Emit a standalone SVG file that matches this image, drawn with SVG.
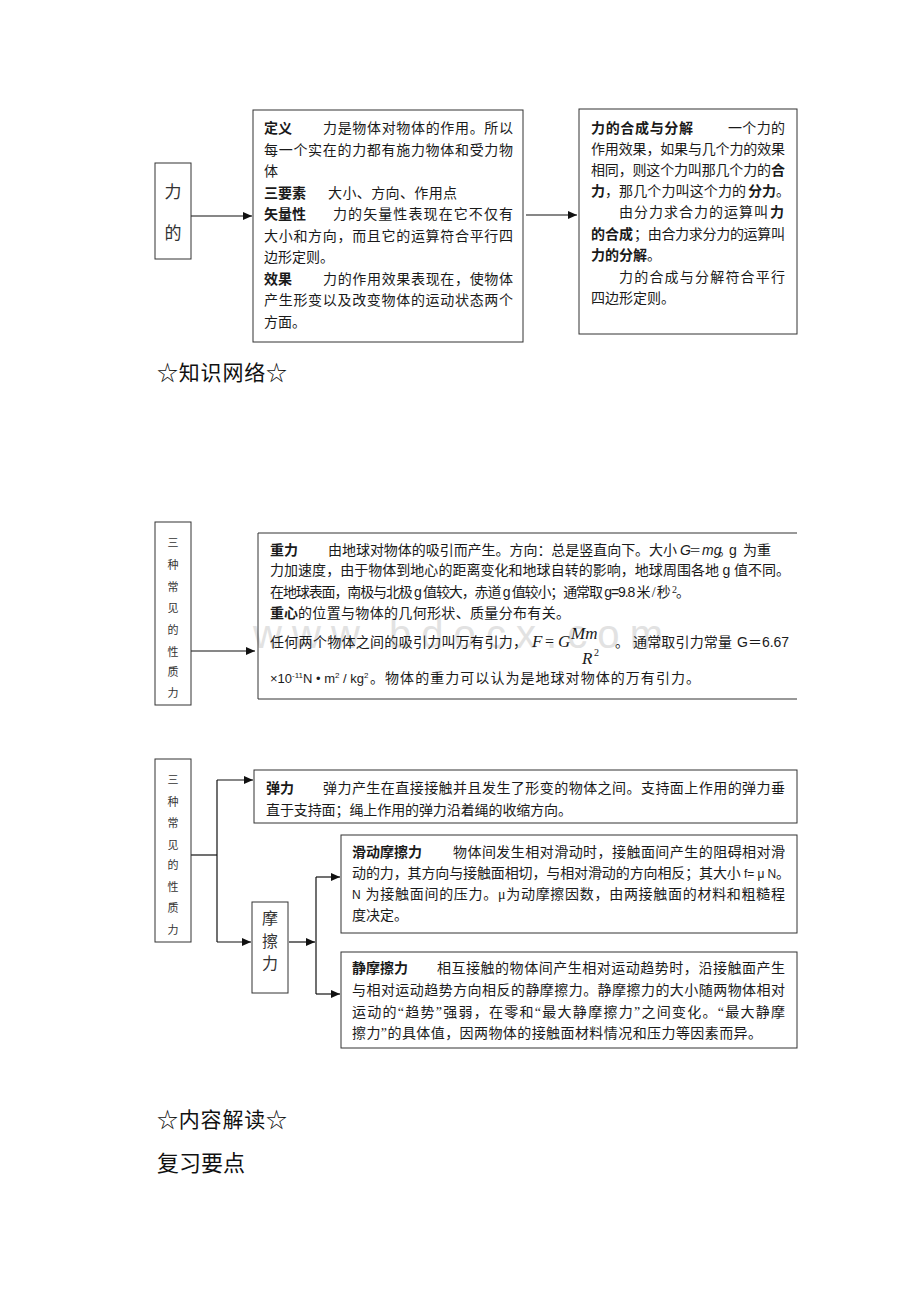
<svg xmlns="http://www.w3.org/2000/svg" width="920" height="1302" viewBox="0 0 920 1302">
<style>
.t{font-family:"Liberation Serif","Noto Sans CJK SC",serif;font-size:14px;fill:#1a1a1a}
.b{font-weight:bold}
.s{font-family:"Liberation Sans","Noto Sans CJK SC",sans-serif}
.i{font-family:"Liberation Serif",serif;font-style:italic;font-size:17px}
.box{fill:none;stroke:#333;stroke-width:1}
.ln{fill:none;stroke:#111;stroke-width:1.2}
.v{font-family:"Liberation Serif","Noto Sans CJK SC",serif;fill:#333;text-anchor:middle}
.h{font-family:"Liberation Serif","Noto Sans CJK SC",serif;fill:#111}
.wm{font-family:"Liberation Sans",sans-serif;font-size:40px;fill:#e2e2e2}
</style>
<defs>
<marker id="ah" markerWidth="9" markerHeight="8" refX="9" refY="4" orient="auto" markerUnits="userSpaceOnUse"><path d="M0,0 L9,4 L0,8 z" fill="#111"/></marker>
</defs>
<rect width="920" height="1302" fill="#fff"/>
<text class="wm" x="253" y="648" textLength="410" lengthAdjust="spacing">www.bdocx.com</text>

<g id="connectors">
<line class="ln" x1="191" y1="216" x2="252" y2="216" marker-end="url(#ah)"/>
<line class="ln" x1="526" y1="215" x2="577" y2="215" marker-end="url(#ah)"/>
<line class="ln" x1="191" y1="651" x2="255" y2="651" marker-end="url(#ah)"/>
<polyline class="ln" points="191,855 217,855"/>
<line class="ln" x1="217" y1="780" x2="217" y2="942"/>
<line class="ln" x1="217" y1="780" x2="253" y2="780" marker-end="url(#ah)"/>
<line class="ln" x1="217" y1="942" x2="251" y2="942" marker-end="url(#ah)"/>
<line class="ln" x1="289" y1="942" x2="315" y2="942" marker-end="url(#ah)"/>
<line class="ln" x1="316" y1="877" x2="316" y2="994"/>
<line class="ln" x1="316" y1="877" x2="340" y2="877" marker-end="url(#ah)"/>
<line class="ln" x1="316" y1="994" x2="340" y2="994" marker-end="url(#ah)"/>
</g>

<g id="node-lide">
<rect class="box" x="155" y="163" width="36" height="96"/>
<text class="v" x="173" y="198" font-size="17">力</text>
<text class="v" x="173" y="239" font-size="17">的</text>
</g>

<g id="node-definition">
<rect class="box" x="253" y="110" width="270" height="232"/>
<text class="t b" x="264" y="133">定义</text>
<text class="t" x="323" y="133" textLength="190" lengthAdjust="spacing">力是物体对物体的作用。所以</text>
<text class="t" x="264" y="154.5" textLength="249" lengthAdjust="spacing">每一个实在的力都有施力物体和受力物</text>
<text class="t" x="264" y="176">体</text>
<text class="t b" x="264" y="197.5">三要素</text>
<text class="t" x="328" y="197.5" textLength="129" lengthAdjust="spacing">大小、方向、作用点</text>
<text class="t b" x="264" y="219">矢量性</text>
<text class="t" x="333" y="219" textLength="180" lengthAdjust="spacing">力的矢量性表现在它不仅有</text>
<text class="t" x="264" y="240.5" textLength="249" lengthAdjust="spacing">大小和方向，而且它的运算符合平行四</text>
<text class="t" x="264" y="262">边形定则。</text>
<text class="t b" x="264" y="283.5">效果</text>
<text class="t" x="323" y="283.5" textLength="190" lengthAdjust="spacing">力的作用效果表现在，使物体</text>
<text class="t" x="264" y="305" textLength="249" lengthAdjust="spacing">产生形变以及改变物体的运动状态两个</text>
<text class="t" x="264" y="326.5">方面。</text>
</g>

<g id="node-composition">
<rect class="box" x="579" y="109" width="218" height="225"/>
<text class="t b" x="591" y="133" textLength="102" lengthAdjust="spacing">力的合成与分解</text>
<text class="t" x="728" y="133" textLength="57" lengthAdjust="spacing">一个力的</text>
<text class="t" x="591" y="153.5" textLength="194" lengthAdjust="spacing">作用效果，如果与几个力的效果</text>
<text class="t" x="591" y="175" textLength="180" lengthAdjust="spacing">相同，则这个力叫那几个力的</text>
<text class="t b" x="771" y="175">合</text>
<text class="t b" x="591" y="196">力</text>
<text class="t" x="605" y="196" textLength="141" lengthAdjust="spacing">，那几个力叫这个力的</text>
<text class="t b" x="748" y="196">分力</text>
<text class="t" x="776" y="196">。</text>
<text class="t" x="619" y="217" textLength="149" lengthAdjust="spacing">由分力求合力的运算叫</text>
<text class="t b" x="770" y="217">力</text>
<text class="t b" x="591" y="238.5">的合成</text>
<text class="t" x="634" y="238.5" textLength="151" lengthAdjust="spacing">；由合力求分力的运算叫</text>
<text class="t b" x="591" y="259.5">力的分解</text>
<text class="t" x="647" y="259.5">。</text>
<text class="t" x="619" y="281.5" textLength="166" lengthAdjust="spacing">力的合成与分解符合平行</text>
<text class="t" x="591" y="302.5">四边形定则。</text>
</g>

<g id="node-three-a">
<rect class="box" x="155" y="522" width="36" height="183"/>
<text class="v" x="173" y="547" font-size="11">三</text>
<text class="v" x="173" y="569" font-size="11">种</text>
<text class="v" x="173" y="591" font-size="11">常</text>
<text class="v" x="173" y="612" font-size="11">见</text>
<text class="v" x="173" y="634" font-size="11">的</text>
<text class="v" x="173" y="656" font-size="11">性</text>
<text class="v" x="173" y="676" font-size="11">质</text>
<text class="v" x="173" y="697" font-size="11">力</text>
</g>

<g id="node-gravity">
<path class="box" d="M797,533 H258 V699 H797"/>
<text class="t b" x="270" y="555">重力</text>
<text class="t" x="328" y="555" textLength="349" lengthAdjust="spacing">由地球对物体的吸引而产生。方向：总是竖直向下。大小</text>
<text class="t s" x="680" y="555" font-style="italic">G</text>
<text class="t" x="689" y="555" style="font-size:12px">＝</text>
<text class="t s" x="702" y="555" font-style="italic">mg</text>
<text class="t" x="718" y="555">。</text>
<text class="t s" x="729" y="555">g</text>
<text class="t" x="743" y="555">为重</text>
<text class="t" x="270" y="575" textLength="520" lengthAdjust="spacing">力加速度，由于物体到地心的距离变化和地球自转的影响，地球周围各地 <tspan class="s">g</tspan> 值不同。</text>
<text class="t" x="270" y="597" textLength="420" lengthAdjust="spacing">在地球表面，南极与北极 <tspan class="s">g</tspan> 值较大，赤道 <tspan class="s">g</tspan> 值较小；通常取 <tspan class="s">g=9.8</tspan> 米 / 秒 <tspan font-size="10" dy="-4">2</tspan><tspan dy="4">。</tspan></text>
<text class="t b" x="270" y="618">重心</text>
<text class="t" x="298" y="618" textLength="272" lengthAdjust="spacing">的位置与物体的几何形状、质量分布有关。</text>
<text class="t" x="270" y="647" textLength="257" lengthAdjust="spacing">任何两个物体之间的吸引力叫万有引力，</text>
<text class="t i" x="532" y="647">F</text>
<text class="t" x="545" y="647" style="font-size:16px;font-family:'Liberation Serif',serif">=</text>
<text class="t i" x="558" y="647">G</text>
<text class="t i" x="571" y="639">Mm</text>
<text class="t i" x="582" y="664">R</text>
<text class="t" x="594" y="656" style="font-size:10px;font-family:'Liberation Serif',serif">2</text>
<text class="t" x="615" y="647">。</text>
<text class="t" x="633" y="647" textLength="99" lengthAdjust="spacing">通常取引力常量</text>
<text class="t s" x="737" y="647">G＝6.67</text>
<text class="t s" x="270" y="683" style="font-size:13px">×10<tspan font-size="8" dy="-5">-11</tspan><tspan dy="5">N • m</tspan><tspan font-size="8" dy="-5">2</tspan><tspan dy="5"> / kg</tspan><tspan font-size="8" dy="-5">2</tspan></text>
<text class="t" x="370" y="683" textLength="330" lengthAdjust="spacing">。物体的重力可以认为是地球对物体的万有引力。</text>
</g>

<g id="node-three-b">
<rect class="box" x="155" y="759" width="36" height="183"/>
<text class="v" x="173" y="784" font-size="11">三</text>
<text class="v" x="173" y="806" font-size="11">种</text>
<text class="v" x="173" y="827" font-size="11">常</text>
<text class="v" x="173" y="849" font-size="11">见</text>
<text class="v" x="173" y="869" font-size="11">的</text>
<text class="v" x="173" y="891" font-size="11">性</text>
<text class="v" x="173" y="912" font-size="11">质</text>
<text class="v" x="173" y="934" font-size="11">力</text>
</g>

<g id="node-elastic">
<rect class="box" x="254" y="770" width="543" height="53"/>
<text class="t b" x="266" y="793">弹力</text>
<text class="t" x="323" y="793" textLength="462" lengthAdjust="spacing">弹力产生在直接接触并且发生了形变的物体之间。支持面上作用的弹力垂</text>
<text class="t" x="266" y="815" textLength="306" lengthAdjust="spacing">直于支持面；绳上作用的弹力沿着绳的收缩方向。</text>
</g>

<g id="node-friction">
<rect class="box" x="252" y="902" width="36" height="91"/>
<text class="v" x="270" y="924" font-size="16">摩</text>
<text class="v" x="270" y="947" font-size="16">擦</text>
<text class="v" x="270" y="969" font-size="16">力</text>
</g>

<g id="node-sliding">
<rect class="box" x="341" y="835" width="456" height="98"/>
<text class="t b" x="352" y="857">滑动摩擦力</text>
<text class="t" x="453" y="857" textLength="332" lengthAdjust="spacing">物体间发生相对滑动时，接触面间产生的阻碍相对滑</text>
<text class="t" x="352" y="877.5" textLength="438" lengthAdjust="spacing">动的力，其方向与接触面相切，与相对滑动的方向相反；其大小 <tspan class="s" font-size="12">f= μ N</tspan>。</text>
<text class="t" x="352" y="899" textLength="433" lengthAdjust="spacing"><tspan class="s" font-size="12">N</tspan> 为接触面间的压力。μ为动摩擦因数，由两接触面的材料和粗糙程</text>
<text class="t" x="352" y="920">度决定。</text>
</g>

<g id="node-static">
<rect class="box" x="341" y="952" width="456" height="96"/>
<text class="t b" x="352" y="973">静摩擦力</text>
<text class="t" x="437" y="973" textLength="348" lengthAdjust="spacing">相互接触的物体间产生相对运动趋势时，沿接触面产生</text>
<text class="t" x="352" y="995" textLength="433" lengthAdjust="spacing">与相对运动趋势方向相反的静摩擦力。静摩擦力的大小随两物体相对</text>
<text class="t" x="352" y="1017" textLength="433" lengthAdjust="spacing">运动的“趋势”强弱，在零和“最大静摩擦力”之间变化。“最大静摩</text>
<text class="t" x="352" y="1038" textLength="410" lengthAdjust="spacing">擦力”的具体值，因两物体的接触面材料情况和压力等因素而异。</text>
</g>

<g id="headings">
<text class="h" x="157" y="380" font-size="21" textLength="130" lengthAdjust="spacing">☆知识网络☆</text>
<text class="h" x="157" y="1127" font-size="21" textLength="130" lengthAdjust="spacing">☆内容解读☆</text>
<text class="h" x="157" y="1171" font-size="22">复习要点</text>
</g>
</svg>
